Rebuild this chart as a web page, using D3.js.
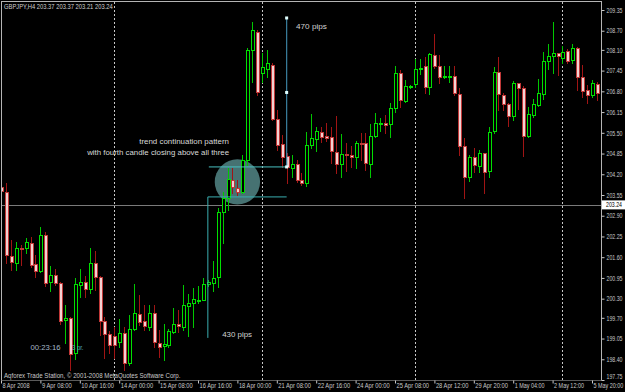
<!DOCTYPE html>
<html><head><meta charset="utf-8">
<script src="https://cdn.jsdelivr.net/npm/d3@7"></script>
<style>
html,body{margin:0;padding:0;background:#000;overflow:hidden;}
svg{display:block;}
text{font-family:"Liberation Sans",Arial,sans-serif;}
</style></head><body>
<svg id="c" width="625" height="392"></svg>
<script>
// ---- data (GBPJPY H4, 8 Apr 2008 00:00 onward) ----
const opens = [
203.80,203.64,201.64,201.42,201.89,201.89,202.05,201.39,201.17,202.30,
200.82,201.04,200.79,199.63,199.69,198.60,200.73,200.82,200.60,201.42,
200.98,199.60,199.19,199.13,198.94,199.22,198.28,199.35,199.82,199.60,
199.41,199.85,198.91,198.82,198.85,199.26,199.51,199.41,200.07,200.17,
200.23,200.26,200.76,200.79,200.98,203.02,203.46,204.02,203.77,203.64,
204.65,208.10,208.66,207.38,207.50,207.63,205.93,205.15,204.77,204.40,
204.52,204.02,203.93,205.12,205.31,205.53,205.40,205.37,204.90,204.52,
204.84,204.80,204.74,205.18,205.18,204.52,205.40,205.78,205.81,205.78,
206.28,207.38,206.50,206.94,207.03,207.50,207.59,206.94,207.94,207.59,
207.25,207.25,207.28,206.72,205.09,204.11,204.74,204.46,204.87,204.30,
205.56,207.41,206.69,206.40,206.03,207.06,206.90,205.40,206.06,206.37,
206.72,207.75,207.91,208.00,207.85,208.06,207.78,208.16,207.25,206.84,
206.69,207.03,206.75];
const highs = [
204.11,203.93,202.14,202.08,201.98,202.20,202.23,201.67,202.55,202.39,
201.32,201.23,200.82,200.10,199.73,200.95,201.23,201.01,201.89,201.80,
201.01,199.73,199.29,199.41,199.66,199.41,199.79,200.76,200.42,200.10,
200.10,200.10,199.32,199.51,199.35,200.01,199.95,200.73,200.45,200.64,
200.70,200.95,200.89,201.48,203.14,203.64,204.40,204.40,204.02,204.80,
208.16,208.97,208.72,208.00,208.10,207.69,206.22,205.43,204.87,204.80,
204.65,204.24,205.53,206.09,205.68,205.68,205.81,205.68,206.03,205.46,
205.18,205.09,205.24,205.49,205.49,205.78,206.12,205.96,206.06,206.43,
207.59,207.47,207.16,207.00,207.81,207.81,207.88,208.00,208.60,207.94,
207.59,207.59,207.59,206.90,205.34,204.80,205.02,204.96,204.87,205.68,
207.56,207.88,206.75,206.43,207.12,207.06,206.97,206.31,206.56,207.19,
208.03,208.28,208.97,208.00,208.22,208.13,208.28,208.19,207.63,207.00,
207.16,207.09,207.00];
const lows = [
203.30,201.42,201.20,201.20,201.36,201.73,201.29,200.98,201.14,200.70,
200.54,200.73,199.51,198.91,198.06,198.41,200.35,200.35,200.48,200.57,
199.16,198.44,198.60,198.44,198.79,198.06,198.22,199.32,199.48,199.32,
199.32,198.79,198.47,198.38,198.79,199.22,199.26,199.32,199.13,199.41,
200.17,200.26,200.70,200.54,200.67,202.05,203.08,203.61,203.55,203.61,
204.49,207.09,206.69,207.09,207.25,205.90,204.96,204.43,203.93,204.11,
203.96,203.86,203.83,205.02,204.93,205.21,205.24,204.55,204.24,204.11,
204.30,204.43,204.40,204.65,204.33,204.11,205.37,205.56,205.49,205.37,
206.15,206.31,206.47,206.90,206.94,207.34,206.75,206.72,207.53,207.06,
207.22,207.09,206.69,204.80,203.46,203.99,204.27,204.27,203.61,204.11,
205.49,206.22,206.22,205.71,205.90,206.25,204.77,205.37,206.00,206.34,
206.56,207.50,207.38,207.31,207.69,207.69,207.69,206.84,206.62,206.43,
206.62,206.53,206.53];
const closes = [
203.68,201.67,201.45,201.89,201.86,202.08,201.36,201.17,202.30,200.79,
201.04,200.79,199.60,199.69,198.57,200.76,200.82,200.60,201.42,200.98,
199.60,199.19,198.85,198.85,199.22,198.28,199.35,199.85,199.57,199.44,
199.85,198.94,198.79,198.88,199.29,199.51,199.44,200.10,200.17,200.29,
200.26,200.76,200.82,200.95,203.02,203.46,204.05,203.80,203.64,204.65,
208.10,208.72,206.78,207.56,207.69,205.93,205.12,204.74,204.43,204.52,
204.02,203.93,205.12,205.34,205.56,205.37,205.34,204.93,204.52,204.84,
204.80,204.74,205.18,205.15,204.55,205.40,205.81,205.81,205.74,206.28,
207.38,206.53,206.97,206.97,207.50,207.53,206.94,207.97,207.59,207.25,
207.28,207.28,206.75,205.09,204.11,204.74,204.49,204.87,204.27,205.53,
207.41,206.72,206.40,206.03,207.06,206.90,205.40,206.09,206.40,206.75,
207.75,207.91,208.00,207.91,208.03,207.75,208.16,207.25,206.81,206.69,
207.06,206.75,206.62];

const dateLabels = ["8 Apr 2008","9 Apr 08:00","10 Apr 16:00","14 Apr 00:00","15 Apr 08:00","16 Apr 16:00","18 Apr 00:00","21 Apr 08:00","22 Apr 16:00","24 Apr 00:00","25 Apr 08:00","28 Apr 12:00","29 Apr 20:00","1 May 04:00","2 May 12:00","5 May 20:00"];
const dateLabelBars = [0,8,16,24,32,40,48,56,64,72,80,88,96,104,112,120];
const priceTicks = [209.35,208.70,208.10,207.45,206.80,206.15,205.50,204.85,204.20,203.55,202.90,202.25,201.60,200.95,200.30,199.70,199.05,198.40,197.75];
const priceTickLabels = ["209.35","208.70","208.10","207.45","206.80","206.15","205.50","204.85","204.20","203.55","202.90","202.25","201.60","200.95","200.30","199.70","199.05","198.40","197.75"];
const separatorBars = [23,53,84,114];
const bidPrice = 203.24;
const titleText = "GBPJPY,H4 203.37 203.37 203.21 203.24";
const copyrightText = "Aqforex Trade Station, \u00a9 2001-2008 MetaQuotes Software Corp.";
// annotations (bar index, price)
const pips430 = {bar:42, lo:199.07, hi:203.49, endBar:58, label:"430 pips", labelBar:44.9, labelPrice:199.10};
const pips470 = {bar:58, lo:204.43, hi:209.10, startBar:42.2, label:"470 pips", labelBar:59.9, labelPrice:208.75};
const circle = {bar:48, price:203.96, rBars:4.6};
const noteLines = ["trend continuation pattern","with fourth candle closing above all three"];
const noteBar = 46.3, notePrices = [205.15,204.79];
const timerText = "00:23:16", timerBar = 6, timerPrice = 198.68;
const prText = "3 pr.";

// ---- drawing ----
const svg = d3.select("#c");
svg.append("rect").attr("width",625).attr("height",392).attr("fill","#000");

const x = d3.scaleLinear().domain([0,122]).range([1,601.85]);
const y = d3.scaleLinear().domain([197.75,209.35]).range([380,10]);

const bars = opens.map((o,i)=>({i,o,h:highs[i],l:lows[i],c:closes[i]}));

svg.append("clipPath").attr("id","clip").append("rect")
  .attr("x",2).attr("y",2).attr("width",599).attr("height",378);

const plot = svg.append("g").attr("clip-path","url(#clip)");

// squeeze a text horizontally to a given width (real text, scaled)
function squeeze(node,w){
  const nat = node.getComputedTextLength();
  if(!nat) return;
  const k = w/nat;
  const sx = +node.getAttribute("x")||0, sy = +node.getAttribute("y")||0;
  node.setAttribute("x",0); node.setAttribute("y",0);
  node.setAttribute("transform",`translate(${sx},${sy}) scale(${k},1)`);
}

// circle (behind candles)
plot.append("circle")
  .attr("cx",x(circle.bar)).attr("cy",y(circle.price))
  .attr("r",x(circle.bar+circle.rBars)-x(circle.bar))
  .attr("fill","#4a7878").attr("opacity",0.95);

// separators
plot.selectAll("line.sep").data(separatorBars).join("line")
  .attr("x1",d=>Math.round(x(d))+0.5).attr("x2",d=>Math.round(x(d))+0.5)
  .attr("y1",2).attr("y2",380)
  .attr("stroke","#c8c8c8").attr("stroke-width",1).attr("stroke-dasharray","2,2");

// bid line
plot.append("line").attr("x1",1).attr("x2",602)
  .attr("y1",Math.round(y(bidPrice))+0.5).attr("y2",Math.round(y(bidPrice))+0.5)
  .attr("stroke","#7a7a7a").attr("stroke-width",1);

// candles
const bullEdge="#00e000", bullWick="#00c800", bearEdge="#c03838", bearFill="#f2d2d2", bearWick="#a01414";
const cg = plot.append("g").attr("shape-rendering","crispEdges");
cg.selectAll("line.wick").data(bars).join("line")
  .attr("x1",d=>Math.round(x(d.i))+0.5).attr("x2",d=>Math.round(x(d.i))+0.5)
  .attr("y1",d=>Math.round(y(d.h))).attr("y2",d=>Math.round(y(d.l))+1)
  .attr("stroke",d=>d.c>=d.o?bullWick:bearWick).attr("stroke-width",1);
cg.selectAll("rect.body").data(bars).join("rect")
  .attr("x",d=>Math.round(x(d.i))-0.5).attr("width",3)
  .attr("y",d=>Math.round(y(Math.max(d.o,d.c)))+0.5)
  .attr("height",d=>Math.max(1,Math.round(y(Math.min(d.o,d.c)))-Math.round(y(Math.max(d.o,d.c)))))
  .attr("fill",d=>d.c>=d.o?"#000":bearFill)
  .attr("stroke",d=>d.c>=d.o?bullEdge:bearEdge).attr("stroke-width",1);

// 430 pips rectangle
const cyan="#3aaeb0";
plot.append("line").attr("x1",x(pips430.bar)).attr("x2",x(pips430.bar))
  .attr("y1",y(pips430.hi)).attr("y2",y(pips430.lo)).attr("stroke",cyan);
plot.append("line").attr("x1",x(pips430.bar)).attr("x2",x(pips430.endBar))
  .attr("y1",y(pips430.hi)).attr("y2",y(pips430.hi)).attr("stroke",cyan);
// 470 pips
plot.append("line").attr("x1",x(pips470.startBar)).attr("x2",x(pips470.bar))
  .attr("y1",y(pips470.lo)).attr("y2",y(pips470.lo)).attr("stroke","#48c0c0");
plot.append("line").attr("x1",x(pips470.bar)).attr("x2",x(pips470.bar))
  .attr("y1",y(pips470.hi)).attr("y2",y(pips470.lo)).attr("stroke","#3a80a0").attr("stroke-width",1.2);
plot.selectAll("rect.mk").data([pips470.hi,(pips470.hi+pips470.lo)/2,pips470.lo]).join("rect")
  .attr("x",x(pips470.bar)-1.5).attr("y",d=>y(d)-1.5).attr("width",3).attr("height",3)
  .attr("fill","#e0ffff");

function txt(parent,str,px,py,w,opts={}){
  const t = parent.append("text").attr("x",px).attr("y",py).text(str)
    .attr("font-size",opts.size||7).attr("fill",opts.fill||"#c8c8c8")
    .attr("text-anchor",opts.anchor||"start");
  if(w) squeeze(t.node(),w);
  return t;
}
txt(svg,pips430.label,x(pips430.labelBar),y(pips430.labelPrice),30,{size:8,fill:"#d0d0d0"});
txt(svg,pips470.label,x(pips470.labelBar),y(pips470.labelPrice),31,{size:8,fill:"#d0d0d0"});
txt(svg,noteLines[0],x(noteBar),y(notePrices[0]),90,{size:8,fill:"#d8d8d8",anchor:"end"});
txt(svg,noteLines[1],x(noteBar),y(notePrices[1]),142,{size:8,fill:"#d8d8d8",anchor:"end"});
txt(svg,timerText,x(timerBar),y(timerPrice),30,{size:8,fill:"#a8b8c8"});
txt(svg,prText,72,y(timerPrice),11.5,{size:8,fill:"#50b0b0"});

// frame
const fr = svg.append("g").attr("stroke","#b4b4b4").attr("stroke-width",1).attr("shape-rendering","crispEdges");
fr.append("line").attr("x1",1.5).attr("x2",1.5).attr("y1",1).attr("y2",381);
fr.append("line").attr("x1",1).attr("x2",602).attr("y1",1.5).attr("y2",1.5);
fr.append("line").attr("x1",601.5).attr("x2",601.5).attr("y1",1).attr("y2",381);
fr.append("line").attr("x1",1).attr("x2",602).attr("y1",380.5).attr("y2",380.5).attr("stroke","#5a5a5a");

// right price axis
const yAxis = d3.axisRight(y).tickValues(priceTicks).tickFormat((d,i)=>priceTickLabels[i]).tickSize(3).tickPadding(2);
const ya = svg.append("g").attr("transform","translate(601.5,0)").call(yAxis);
ya.select(".domain").remove();
ya.selectAll(".tick line").attr("stroke","#c8c8c8");
ya.selectAll(".tick text").attr("fill","#c8c8c8").attr("font-size",7)
  .attr("font-family","Liberation Sans,Arial,sans-serif")
  .attr("y",(d)=> d===197.75 ? -3.5 : 0)
  .each(function(){ squeeze(this,16); });

// bid label
const by = y(bidPrice);
svg.append("rect").attr("x",602).attr("y",by-4.5).attr("width",23).attr("height",9).attr("fill","#ffffff");
txt(svg,bidPrice.toFixed(2),606,by+2.5,16,{size:7,fill:"#000"});

// bottom date axis
const xAxis = d3.axisBottom(x).tickValues(dateLabelBars).tickFormat((d,i)=>dateLabels[i]).tickSize(3).tickPadding(0);
const xa = svg.append("g").attr("transform","translate(0,380.5)").call(xAxis);
xa.select(".domain").remove();
xa.selectAll(".tick line").attr("stroke","#c8c8c8");
xa.selectAll(".tick text").attr("fill","#c8c8c8").attr("font-size",7)
  .attr("font-family","Liberation Sans,Arial,sans-serif")
  .attr("text-anchor","start").attr("x",1).attr("y",3).attr("dy","0.71em")
  .each(function(d,i){ squeeze(this,dateLabels[i].length*2.72); });

// title and copyright
txt(svg,titleText,4,9,109,{size:7,fill:"#d0d0d0"});
txt(svg,copyrightText,4,377.5,177,{size:7,fill:"#c8c8c8"});
</script>
</body></html>
